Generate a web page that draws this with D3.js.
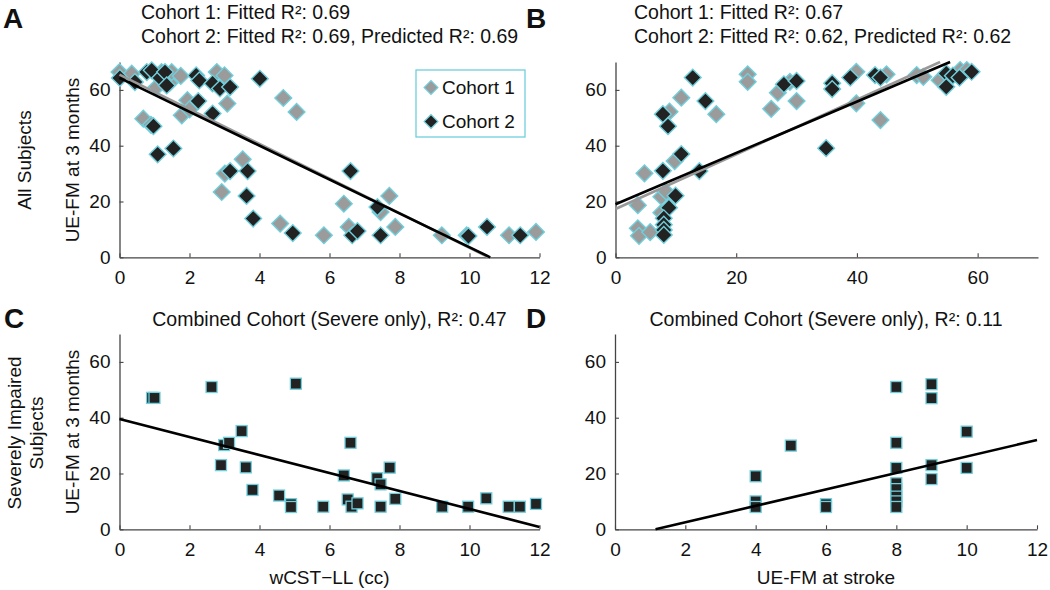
<!DOCTYPE html>
<html><head><meta charset="utf-8">
<script src="https://cdn.jsdelivr.net/npm/d3@7"></script>
<style>
html,body{margin:0;padding:0;background:#fff;}
svg{display:block;font-family:"Liberation Sans",Arial,Helvetica,sans-serif;}
</style></head>
<body>
<svg id="chart" width="1050" height="590"></svg>
<script>
// ---------- DATA ----------
// Panel A: wCST-LL (cc) vs UE-FM at 3 months
const aCohort1 = [[0.0,66.4],[0.35,65.8],[0.68,49.7],[0.9,47.5],[1.06,61],[1.2,66.4],[1.43,62.5],[1.49,66.4],[1.75,65],[1.78,50.9],[1.94,56.3],[2.0,53],[2.78,66.4],[3.0,65.2],[3.08,55.1],[2.92,23.4],[3.01,30],[3.52,35.1],[4.68,57.1],[5.06,52.1],[4.59,12.1],[5.84,7.9],[6.41,19.2],[6.55,10.9],[7.46,16.2],[7.71,22],[7.88,10.9],[9.21,7.9],[9.92,7.9],[11.13,7.9],[11.9,9.1]];
const aCohort2 = [[0.01,64.3],[0.44,62.8],[0.78,66.4],[0.92,67],[0.97,47],[1.09,36.9],[1.16,64.3],[1.3,66.4],[1.35,61.6],[1.54,39],[2.19,65.2],[2.28,63.4],[2.25,56],[2.66,51.5],[2.66,62.3],[2.87,60.5],[3.16,61],[3.16,30.9],[3.66,30.9],[3.63,22],[3.82,13.9],[4.01,64],[4.95,8.7],[6.6,30.9],[6.65,7.9],[6.8,9.4],[7.37,18],[7.46,7.9],[9.97,7.6],[10.5,10.9],[11.45,7.9]];
// Panel B: UE-FM at stroke vs UE-FM at 3 months
const bCohort1 = [[3.7,18.7],[4.8,30.1],[3.7,10.4],[3.9,7.7],[5.75,9],[7.6,21.7],[8.4,23.5],[7.6,16],[8.95,52.2],[9.8,34.5],[10.9,57.2],[16.7,51.3],[21.9,65.6],[21.9,62.9],[25.8,53.2],[26.9,59],[28.9,62.9],[30,56],[39.9,66.5],[39.9,55.2],[43.9,49.2],[44.9,65.6],[49.9,65.3],[51,64.7],[53.7,63.5],[57.1,67.1],[58.2,67.1]];
const bCohort2 = [[7.85,51.3],[8.7,47],[7.85,31],[10.9,37],[9.95,22.1],[8.85,17.8],[8,14],[8,11.7],[8,9.8],[8,8],[12.8,64.4],[14.9,56],[13.9,30.9],[27.9,62],[30,63.2],[34.9,39.1],[35.9,62.4],[35.9,60.3],[38.9,64.4],[43,65.3],[43.9,64.4],[54.8,65.9],[55.9,65.1],[54.8,61.1],[57,64.4],[59,66.5]];
// Panel C: severe only, wCST-LL
const cSevere = [[0.93,47.1],[1.0,47.1],[2.63,51],[5.04,52.2],[3.49,35.2],[2.99,30.2],[3.13,31],[2.9,23],[3.61,22.2],[3.8,14.1],[4.56,12.1],[4.9,9],[4.9,8],[5.82,8.1],[6.41,19.3],[6.6,31],[6.52,10.7],[6.63,8.1],[6.8,9.3],[7.36,18.3],[7.46,16.1],[7.72,22.1],[7.88,10.9],[7.46,8.1],[9.22,8.1],[9.96,8.1],[10.48,11.1],[11.12,8.1],[11.44,8.1],[11.9,9.1]];
// Panel D: severe only, UE-FM at stroke
const dSevere = [[4,19],[4,10],[4,8],[5,30],[6,9],[6,8],[8,51],[8,31],[8,22],[8,16.5],[8,14.4],[8,11.7],[8,10],[8,8],[9,52],[9,47],[9,23],[9,18],[10,35],[10,22]];
// Regression fits: [intercept, slope]
const fitA1 = [65.5, -6.21], fitA2 = [64.3, -6.07];
const fitB1 = [17.3, 0.98], fitB2 = [19.0, 0.92];
const fitC = [39.5, -3.22], fitD = [-3.4, 2.95];
// Tick values
const ticksX12 = [0,2,4,6,8,10,12];
const ticksX70 = [0,20,40,60];
const ticksY = [0,20,40,60];
const titlesA = ["Cohort 1: Fitted R\u00B2: 0.69","Cohort 2: Fitted R\u00B2: 0.69, Predicted R\u00B2: 0.69"];
const titlesB = ["Cohort 1: Fitted R\u00B2: 0.67","Cohort 2: Fitted R\u00B2: 0.62, Predicted R\u00B2: 0.62"];
const titleC = "Combined Cohort (Severe only), R\u00B2: 0.47";
const titleD = "Combined Cohort (Severe only), R\u00B2: 0.11";
const legendLabels = ["Cohort 1","Cohort 2"];

// ---------- DRAW ----------
const svg = d3.select("#chart");
const EDGE = "#6fcfdc", GRAY = "#9b9b9b", DARK = "#222222", AXIS = "#444";

function panel(cfg){
  const x = d3.scaleLinear().domain(cfg.xd).range(cfg.xr);
  const y = d3.scaleLinear().domain([0,70]).range(cfg.yr);
  const g = svg.append("g");
  const xa = g.append("g").attr("transform",`translate(0,${cfg.yr[0]})`)
    .call(d3.axisBottom(x).tickValues(cfg.xt).tickSizeInner(-4).tickSizeOuter(0).tickPadding(10).tickFormat(d3.format("d")));
  const ya = g.append("g").attr("transform",`translate(${cfg.xr[0]},0)`)
    .call(d3.axisLeft(y).tickValues(ticksY).tickSizeInner(-4).tickSizeOuter(0).tickPadding(9).tickFormat(d3.format("d")));
  [xa,ya].forEach(a=>{
    a.select(".domain").attr("stroke",AXIS).attr("stroke-width",1.3);
    a.selectAll(".tick line").attr("stroke",AXIS).attr("stroke-width",1.1);
    a.selectAll(".tick text").attr("fill","#111").attr("font-size",19).attr("font-family","Liberation Sans, Arial, sans-serif");
  });
  xa.selectAll(".tick text").attr("dy","0.9em");
  return {x,y,g};
}

function fitLine(p, fit, color){
  const [b,m] = fit;
  const xd = p.x.domain();
  const yAt = v=>b+m*v;
  const clip = v=>{
    const yy = yAt(v);
    if (yy<0) return (0-b)/m;
    if (yy>70) return (70-b)/m;
    return v;
  };
  const x0 = clip(xd[0]), x1 = clip(xd[1]);
  p.g.append("line")
    .attr("x1",p.x(x0)).attr("y1",p.y(yAt(x0)))
    .attr("x2",p.x(x1)).attr("y2",p.y(yAt(x1)))
    .attr("stroke",color).attr("stroke-width",2.6);
}

const diamond = d3.symbol().type(d3.symbolSquare).size(140);
function diamonds(p, data, fill){
  p.g.append("g").selectAll("path").data(data).join("path")
    .attr("d", diamond)
    .attr("transform", d=>`translate(${p.x(d[0])},${p.y(d[1])}) rotate(45)`)
    .attr("fill", fill).attr("stroke", EDGE).attr("stroke-width",1.4);
}
function squares(p, data){
  p.g.append("g").selectAll("rect").data(data).join("rect")
    .attr("x", d=>p.x(d[0])-5.5).attr("y", d=>p.y(d[1])-5.5)
    .attr("width",11).attr("height",11)
    .attr("fill", DARK).attr("stroke", EDGE).attr("stroke-width",1.3);
}

const pA = panel({xd:[0,12], xr:[119.5,539.5], yr:[257.3,62], xt:ticksX12});
diamonds(pA, aCohort1, GRAY);
diamonds(pA, aCohort2, DARK);
fitLine(pA, fitA1, "#999");
fitLine(pA, fitA2, "#000");

const pB = panel({xd:[0,70], xr:[615.5,1038], yr:[257.3,62], xt:ticksX70});
diamonds(pB, bCohort1, GRAY);
diamonds(pB, bCohort2, DARK);
fitLine(pB, fitB1, "#999");
fitLine(pB, fitB2, "#000");

const pC = panel({xd:[0,12], xr:[119.5,539.5], yr:[529.3,334], xt:ticksX12});
squares(pC, cSevere);
fitLine(pC, fitC, "#000");

const pD = panel({xd:[0,12], xr:[615,1037], yr:[529.3,334], xt:ticksX12});
squares(pD, dSevere);
fitLine(pD, fitD, "#000");

// legend
const lg = svg.append("g");
lg.append("rect").attr("x",416).attr("y",70).attr("width",109).attr("height",67)
  .attr("fill","#fff").attr("stroke",EDGE).attr("stroke-width",1.3);
legendLabels.forEach((t,i)=>{
  const cy = 87.5 + i*34;
  lg.append("path").attr("d", d3.symbol().type(d3.symbolSquare).size(95))
    .attr("transform",`translate(431,${cy}) rotate(45)`)
    .attr("fill", i===0?GRAY:DARK).attr("stroke",EDGE).attr("stroke-width",1.2);
  lg.append("text").attr("x",442).attr("y",cy+6.5).attr("font-size",19).attr("fill","#111").text(t);
});

// titles
function txt(x,y,s,opts={}){
  const t = svg.append("text").attr("x",x).attr("y",y).attr("font-size",opts.size||19.5)
    .attr("fill","#111").text(s);
  if (opts.anchor) t.attr("text-anchor",opts.anchor);
  if (opts.weight) t.attr("font-weight",opts.weight);
  if (opts.rotate) t.attr("transform",`rotate(-90,${x},${y})`);
  return t;
}
txt(141,19,titlesA[0]); txt(141,43,titlesA[1]);
txt(634,19,titlesB[0]); txt(634,43,titlesB[1]);
txt(329.5,326,titleC,{anchor:"middle"});
txt(826,326,titleD,{anchor:"middle"});
// panel letters
txt(3,28,"A",{size:28,weight:"bold"});
txt(526,28,"B",{size:28,weight:"bold"});
txt(4,328,"C",{size:28,weight:"bold"});
txt(526,328,"D",{size:28,weight:"bold"});
// axis labels
txt(79,160,"UE-FM at 3 months",{anchor:"middle",rotate:true,size:19});
txt(79,432,"UE-FM at 3 months",{anchor:"middle",rotate:true,size:19});
txt(31,160,"All Subjects",{anchor:"middle",rotate:true,size:19});
txt(21,433,"Severely Impaired",{anchor:"middle",rotate:true,size:19});
txt(43,433,"Subjects",{anchor:"middle",rotate:true,size:19});
txt(329.5,584,"wCST\u2212LL (cc)",{anchor:"middle",size:19});
txt(826,584,"UE-FM at stroke",{anchor:"middle",size:19});
</script>
</body></html>
